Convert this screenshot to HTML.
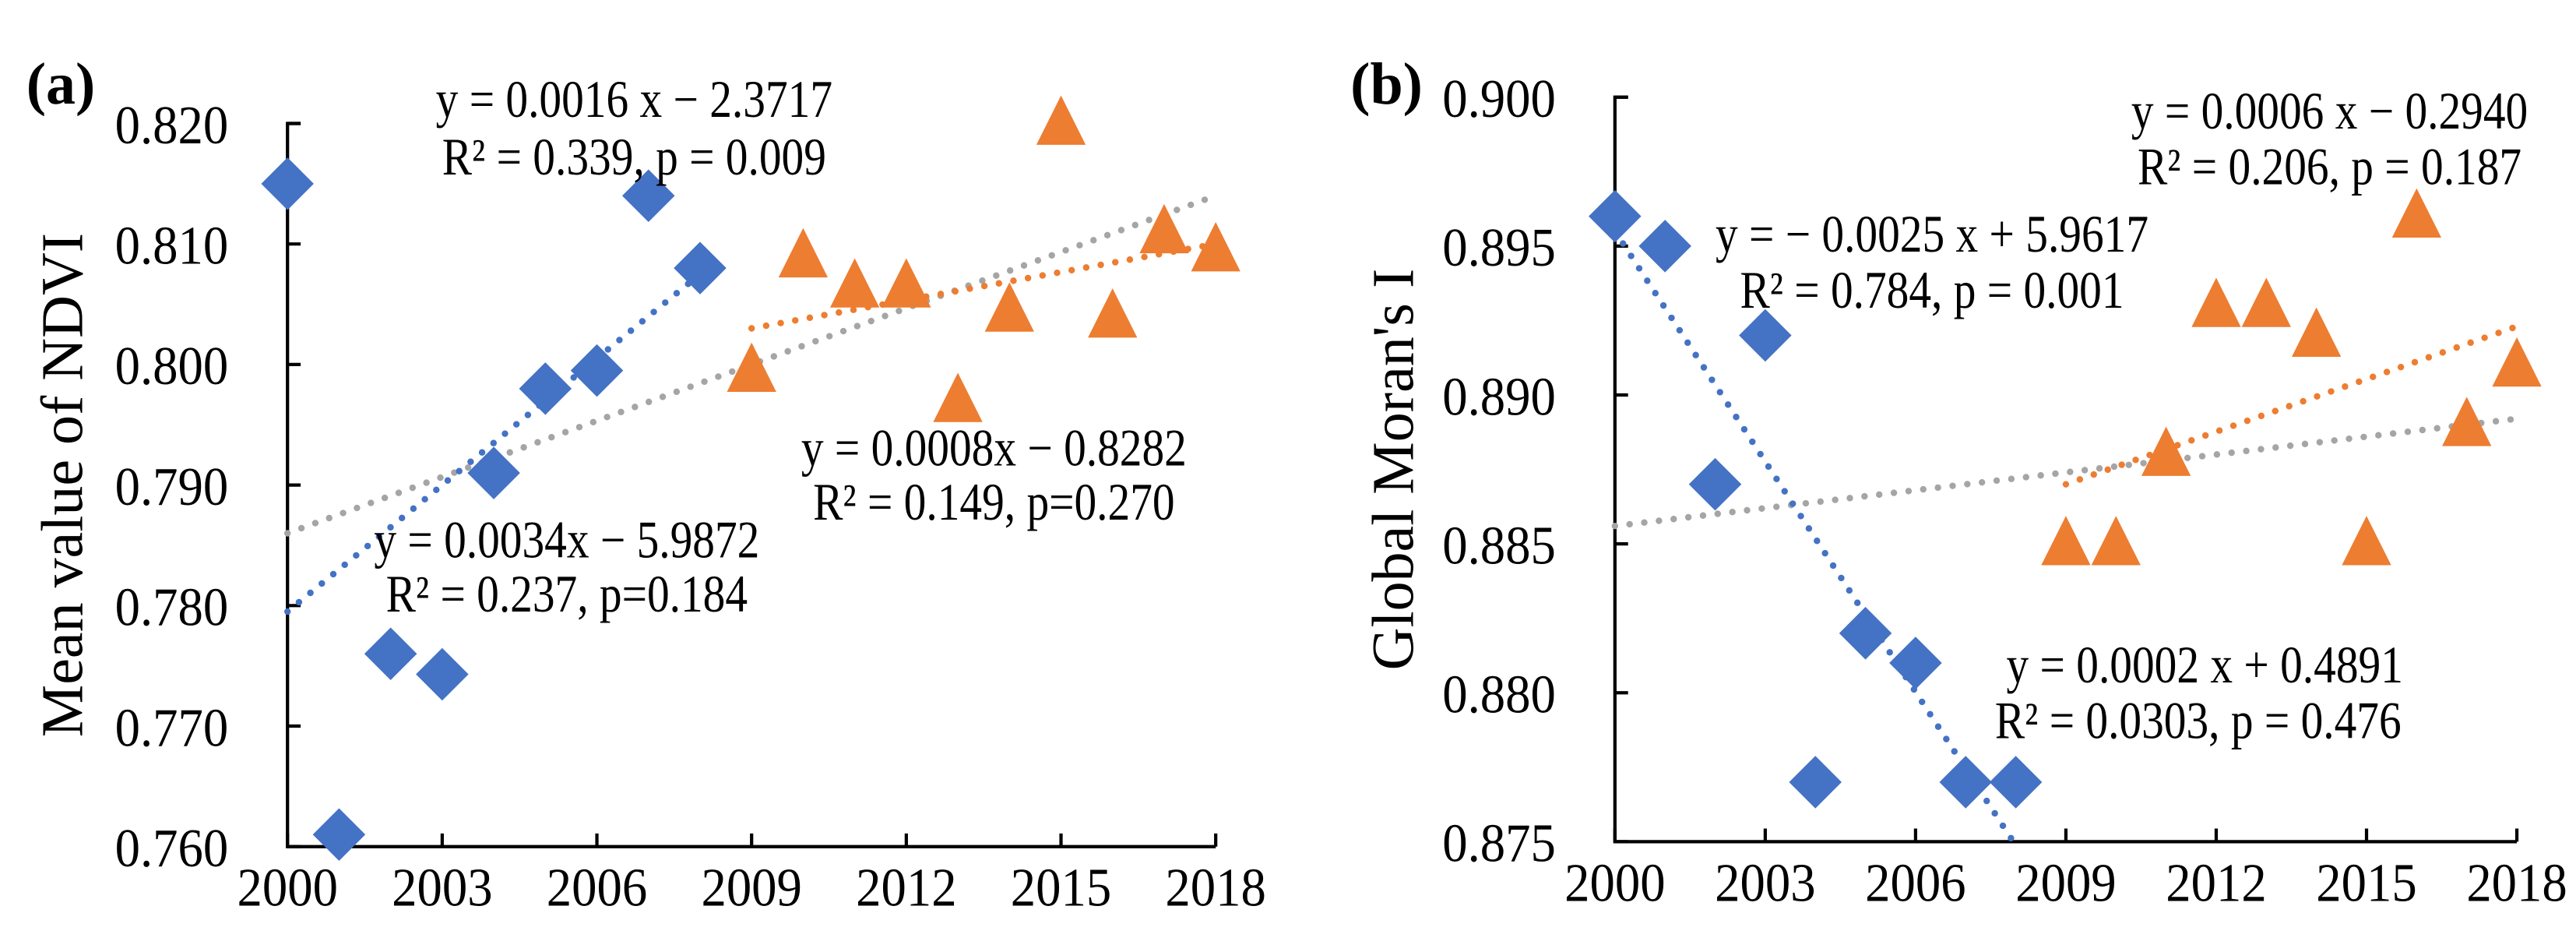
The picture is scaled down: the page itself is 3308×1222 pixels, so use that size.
<!DOCTYPE html>
<html><head><meta charset="utf-8"><style>
html,body{margin:0;padding:0;background:#fff;}
svg{display:block;}
text{font-family:"Liberation Serif",serif;fill:#000;}
</style></head><body>
<svg id="chart" width="3308" height="1222" viewBox="0 0 1568 579" xmlns="http://www.w3.org/2000/svg">
</svg>
<script>
const years = [2000,2001,2002,2003,2004,2005,2006,2007,2008,2009,2010,2011,2012,2013,2014,2015,2016,2017,2018];
const xTicks = [2000,2003,2006,2009,2012,2015,2018];
const ndviBlue = [0.815,0.761,0.776,0.7743,0.791,0.798,0.7995,0.814,0.808];
const ndviOrange = [0.7995,0.809,0.8065,0.8065,0.797,0.8045,0.820,0.804,0.811,0.8095];
const ndviTicks = [0.760,0.770,0.780,0.790,0.800,0.810,0.820];
const ndviTrendBlue = [2000,0.7795,2008,0.8075];
const ndviTrendOrange = [2009,0.803,2018,0.810];
const ndviTrendGray = [2000,0.786,2018,0.814];
const moranBlue = [0.896,0.895,0.887,0.892,0.877,0.882,0.881,0.877,0.877];
const moranOrange = [0.885,0.885,0.888,0.893,0.893,0.892,0.885,0.896,0.889,0.891];
const moranTicks = [0.875,0.880,0.885,0.890,0.895,0.900];
const moranTrendBlue = [2000,0.8955,2007.95,0.875];
const moranTrendOrange = [2009,0.887,2018,0.8923];
const moranTrendGray = [2000,0.8856,2018,0.8892];

const NS='http://www.w3.org/2000/svg';
const svg=document.getElementById('chart');
function mk(tag,attrs,parent){const e=document.createElementNS(NS,tag);for(const k in attrs)e.setAttribute(k,attrs[k]);(parent||svg).appendChild(e);return e;}

function panel(o){
  const g=mk('g',{});
  
  
  const xs=v=>o.x0+(v-2000)/18*(o.x1-o.x0);
  const ys=v=>o.yb+(v-o.ymin)/(o.ymax-o.ymin)*(o.yt-o.yb);
  const ax=mk('path',{d:`M${o.x0+8},${o.yt} H${o.x0} V${o.yb} H${o.x1}`,stroke:'#000','stroke-width':2,fill:'none'},g);
  
  
  o.yticks.forEach(t=>{
    mk('line',{x1:o.x0,x2:o.x0+8,y1:ys(t),y2:ys(t),stroke:'#000','stroke-width':2},g);
    const tx=mk('text',{x:0,y:0,'text-anchor':'end','font-size':33,transform:`translate(${o.x0-36},${ys(t)+12}) scale(0.93,1)`},g);
    tx.textContent=t.toFixed(3);
    
    
  });
  xTicks.forEach(t=>{
    mk('line',{x1:xs(t),x2:xs(t),y1:o.yb,y2:o.yb-8,stroke:'#000','stroke-width':2},g);
    const tx=mk('text',{x:0,y:0,'text-anchor':'middle','font-size':33,transform:`translate(${xs(t)},${o.yb+36}) scale(0.93,1)`},g);
    tx.textContent=t;
    
    
  });
  [[o.tg,'#a5a5a5','trend-all'],[o.tb,'#4472c4','trend-2000-2008'],[o.to,'#ed7d31','trend-2009-2018']].forEach(([t,c,n])=>{
    const l=mk('line',{x1:xs(t[0]),y1:ys(t[1]),x2:xs(t[2]),y2:ys(t[3]),stroke:c,'stroke-width':4,'stroke-linecap':'round','stroke-dasharray':'0 9'},g);
    
    
  });
  o.blue.forEach((v,i)=>{
    const cx=xs(years[i]),cy=ys(v),r=16;
    const p=mk('polygon',{points:`${cx},${cy-r} ${cx+r},${cy} ${cx},${cy+r} ${cx-r},${cy}`,fill:'#4472c4'},g);
    
    
  });
  o.orange.forEach((v,i)=>{
    const cx=xs(years[i+9]),cy=ys(v);
    const p=mk('polygon',{points:`${cx},${cy-17} ${cx+15},${cy+13} ${cx-15},${cy+13}`,fill:'#ed7d31'},g);
    
    
  });
  const lab=mk('text',{x:o.labx,y:63,'font-size':36,'font-weight':'bold'},g);
  lab.textContent=o.label;
  
  
  const yt=mk('text',{x:0,y:0,'font-size':36,'text-anchor':'middle',transform:`translate(${o.titx},${(o.yt+o.yb)/2}) rotate(-90)`},g);
  yt.textContent=o.title;
  
  
  o.ann.forEach(a=>{
    const t=mk('text',{x:0,y:0,'font-size':32,'text-anchor':'middle',transform:`translate(${a[0]},${a[1]}) scale(0.85,1)`},g);
    t.textContent=a[2];
    
    
  });
}
panel({name:'panel-a-ndvi',x0:175,x1:740,yb:515,yt:75,ymin:0.760,ymax:0.820,yticks:ndviTicks,
  blue:ndviBlue,orange:ndviOrange,tb:ndviTrendBlue,to:ndviTrendOrange,tg:ndviTrendGray,
  label:'(a)',labx:16,title:'Mean value of NDVI',titx:50,
  ann:[[386,71,'y = 0.0016 x − 2.3717'],[386,106,'R² = 0.339, p = 0.009'],
       [605,283,'y = 0.0008x − 0.8282'],[605,316,'R² = 0.149, p=0.270'],
       [345,339,'y = 0.0034x − 5.9872'],[345,372,'R² = 0.237, p=0.184']]});
panel({name:'panel-b-moran',x0:983,x1:1532,yb:512,yt:59,ymin:0.875,ymax:0.900,yticks:moranTicks,
  blue:moranBlue,orange:moranOrange,tb:moranTrendBlue,to:moranTrendOrange,tg:moranTrendGray,
  label:'(b)',labx:822,title:"Global Moran's I",titx:860,
  ann:[[1418,78,'y = 0.0006 x − 0.2940'],[1418,112,'R² = 0.206, p = 0.187'],
       [1176,153,'y = − 0.0025 x + 5.9617'],[1176,187,'R² = 0.784, p = 0.001'],
       [1342,415,'y = 0.0002 x + 0.4891'],[1338,449,'R² = 0.0303, p = 0.476']]});
</script>
</body></html>
